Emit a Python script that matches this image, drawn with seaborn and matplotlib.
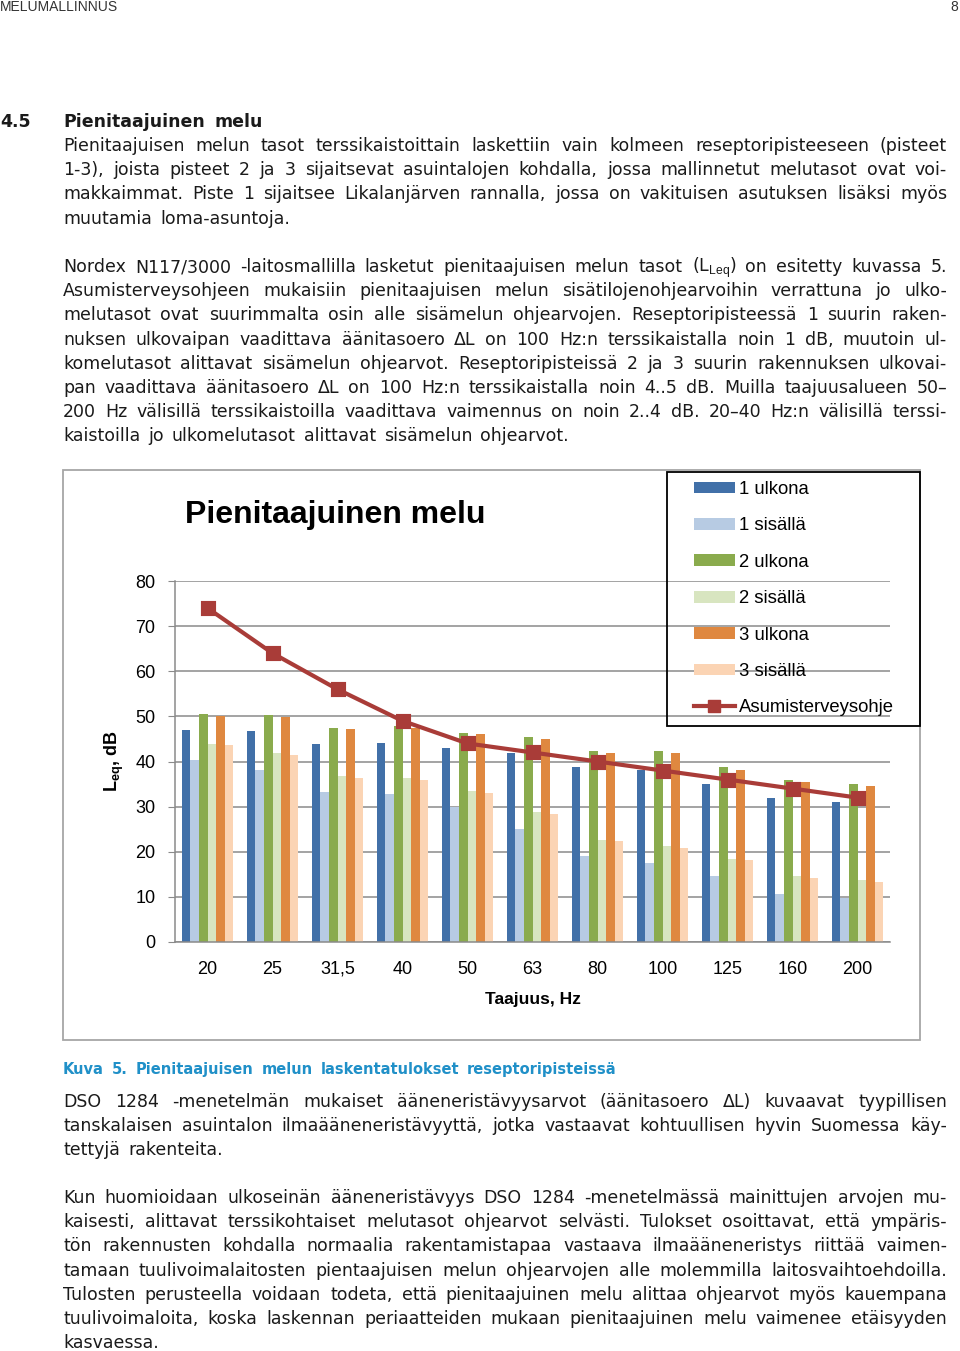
import numpy as np
import pandas as pd
import matplotlib
matplotlib.use("Agg")
import matplotlib.pyplot as plt
import seaborn as sns
from matplotlib.font_manager import FontProperties
from matplotlib.patches import Rectangle, Patch
from matplotlib.lines import Line2D

# data (Leq, dB per third-octave band)
freqs = ['20', '25', '31,5', '40', '50', '63', '80', '100', '125', '160', '200']
ulkona_1 = [47.0, 46.7, 43.9, 44.1, 42.9, 41.8, 38.8, 38.2, 35.0, 31.9, 31.0]
sisalla_1 = [40.4, 38.2, 33.3, 32.7, 29.9, 25.1, 19.1, 17.4, 14.7, 10.7, 9.8]
ulkona_2 = [50.5, 50.2, 47.5, 47.9, 46.4, 45.4, 42.4, 42.4, 38.8, 35.8, 35.0]
sisalla_2 = [43.9, 41.9, 36.8, 36.3, 33.5, 28.8, 22.6, 21.2, 18.5, 14.6, 13.7]
ulkona_3 = [50.1, 49.9, 47.1, 47.4, 46.1, 44.9, 41.9, 41.9, 38.2, 35.4, 34.5]
sisalla_3 = [43.6, 41.4, 36.4, 35.9, 33.0, 28.4, 22.3, 20.8, 18.1, 14.1, 13.3]
ohjearvo = [74, 64, 56, 49, 44, 42, 40, 38, 36, 34, 32]

series_names = ['1 ulkona', '1 sisällä', '2 ulkona', '2 sisällä', '3 ulkona', '3 sisällä']
series_values = [ulkona_1, sisalla_1, ulkona_2, sisalla_2, ulkona_3, sisalla_3]
series_colors = ['#4170a8', '#b7cbe3', '#8aab4d', '#d8e5c0', '#df8840', '#fbd4b4']
line_name = 'Asumisterveysohje'
line_color = '#a93c38'

# page text
header_left = 'MELUMALLINNUS'
header_right = '8'
heading_num = '4.5'
heading = 'Pienitaajuinen melu'
para1 = [
    'Pienitaajuisen melun tasot terssikaistoittain laskettiin vain kolmeen reseptoripisteeseen (pisteet',
    '1-3), joista pisteet 2 ja 3 sijaitsevat asuintalojen kohdalla, jossa mallinnetut melutasot ovat voi-',
    'makkaimmat. Piste 1 sijaitsee Likalanjärven rannalla, jossa on vakituisen asutuksen lisäksi myös',
    'muutamia loma-asuntoja.',
]
para2 = [
    'Nordex N117/3000 -laitosmallilla lasketut pienitaajuisen melun tasot (L$_{\\mathrm{Leq}}$) on esitetty kuvassa 5.',
    'Asumisterveysohjeen mukaisiin pienitaajuisen melun sisätilojenohjearvoihin verrattuna jo ulko-',
    'melutasot ovat suurimmalta osin alle sisämelun ohjearvojen. Reseptoripisteessä 1 suurin raken-',
    'nuksen ulkovaipan vaadittava äänitasoero ΔL on 100 Hz:n terssikaistalla noin 1 dB, muutoin ul-',
    'komelutasot alittavat sisämelun ohjearvot. Reseptoripisteissä 2 ja 3 suurin rakennuksen ulkovai-',
    'pan vaadittava äänitasoero ΔL on 100 Hz:n terssikaistalla noin 4..5 dB. Muilla taajuusalueen 50–',
    '200 Hz välisillä terssikaistoilla vaadittava vaimennus on noin 2..4 dB. 20–40 Hz:n välisillä terssi-',
    'kaistoilla jo ulkomelutasot alittavat sisämelun ohjearvot.',
]
caption = 'Kuva 5. Pienitaajuisen melun laskentatulokset reseptoripisteissä'
para3 = [
    'DSO 1284 -menetelmän mukaiset ääneneristävyysarvot (äänitasoero ΔL) kuvaavat tyypillisen',
    'tanskalaisen asuintalon ilmaääneneristävyyttä, jotka vastaavat kohtuullisen hyvin Suomessa käy-',
    'tettyjä rakenteita.',
]
para4 = [
    'Kun huomioidaan ulkoseinän ääneneristävyys DSO 1284 -menetelmässä mainittujen arvojen mu-',
    'kaisesti, alittavat terssikohtaiset melutasot ohjearvot selvästi. Tulokset osoittavat, että ympäris-',
    'tön rakennusten kohdalla normaalia rakentamistapaa vastaava ilmaääneneristys riittää vaimen-',
    'tamaan tuulivoimalaitosten pientaajuisen melun ohjearvojen alle molemmilla laitosvaihtoehdoilla.',
    'Tulosten perusteella voidaan todeta, että pienitaajuinen melu alittaa ohjearvot myös kauempana',
    'tuulivoimaloita, koska laskennan periaatteiden mukaan pienitaajuinen melu vaimenee etäisyyden',
    'kasvaessa.',
]

W, H = 960, 1351
plt.rcParams['font.family'] = ['Liberation Sans', 'DejaVu Sans']
plt.rcParams['mathtext.fontset'] = 'custom'
plt.rcParams['mathtext.rm'] = 'Liberation Sans'
plt.rcParams['mathtext.bf'] = 'Liberation Sans:bold'

fig = plt.figure(figsize=(W / 100, H / 100), dpi=100, facecolor='white')
renderer = fig.canvas.get_renderer()


def fx(x):
    return x / W


def fy(y):
    return 1 - y / H


def text_width(s, fp):
    return renderer.get_text_width_height_descent(s, fp, ismath=('$' in s))[0]


def put_line(line, y, justify, x0=63, right=947, size=12.5, weight='normal',
             color='#1a1a1a', family='DejaVu Sans', extra=2.5):
    fp = FontProperties(family=family, size=size, weight=weight)
    words = line.split(' ')
    widths = [text_width(w, fp) for w in words]
    space = text_width('a a', fp) - text_width('aa', fp)
    if justify and len(words) > 1:
        gap = (right - x0 - sum(widths)) / (len(words) - 1)
    else:
        gap = space + extra
    x = x0
    for w, wd in zip(words, widths):
        fig.text(fx(x), fy(y), w, fontproperties=fp, color=color,
                 ha='left', va='baseline')
        x += wd + gap


def put_paragraph(lines, y0, step=24.2, **kw):
    for i, line in enumerate(lines):
        put_line(line, y0 + i * step, justify=(i < len(lines) - 1), **kw)


# header
fig.text(fx(0), fy(11), header_left, fontsize=10, color='#333333', ha='left', va='baseline')
fig.text(fx(958), fy(11), header_right, fontsize=10, color='#333333', ha='right', va='baseline')

# section heading and text above the chart
hfp = FontProperties(family='DejaVu Sans', size=12.5, weight='bold')
fig.text(fx(0), fy(127), heading_num, fontproperties=hfp, color='#1a1a1a', va='baseline')
put_line(heading, 127, False, weight='bold', extra=3.5)
put_paragraph(para1, 151)
put_paragraph(para2, 272)

# chart frame and legend box
fig.patches.append(Rectangle((fx(63), fy(1040)), fx(920) - fx(63), fy(470) - fy(1040),
                             transform=fig.transFigure, fill=False, edgecolor='#a6a6a6', lw=1.3))
fig.patches.append(Rectangle((fx(667), fy(726)), fx(920) - fx(667), fy(472) - fy(726),
                             transform=fig.transFigure, fill=False, edgecolor='black', lw=1.3,
                             zorder=5))

ax = fig.add_axes([fx(175), fy(942), fx(890) - fx(175), fy(581) - fy(942)])

df = pd.DataFrame({
    'Taajuus': freqs * len(series_names),
    'sarja': np.repeat(series_names, len(freqs)),
    'Leq': np.concatenate(series_values),
})
sns.barplot(data=df, x='Taajuus', y='Leq', hue='sarja', order=freqs,
            hue_order=series_names, palette=dict(zip(series_names, series_colors)),
            width=0.785, gap=0, errorbar=None, linewidth=0, legend=False,
            saturation=1, ax=ax)
sns.pointplot(x=freqs, y=ohjearvo, order=freqs, color=line_color, markers='s',
              markersize=8, linewidth=3, errorbar=None, ax=ax)

ax.set_xlim(-0.5, len(freqs) - 0.5)
ax.set_ylim(0, 80)
ax.set_yticks(range(0, 81, 10))
ax.set_axisbelow(True)
ax.yaxis.grid(True, color='#8a8a8a', lw=1.1)
ax.xaxis.grid(False)
for s in ['top', 'right']:
    ax.spines[s].set_visible(False)
for s in ['left', 'bottom']:
    ax.spines[s].set_color('#8a8a8a')
    ax.spines[s].set_linewidth(1.1)
ax.tick_params(axis='y', length=5, color='#8a8a8a', pad=9, labelsize=13)
ax.tick_params(axis='x', length=0, pad=13.5, labelsize=13)
ax.set_facecolor('none')

ax.set_xlabel('Taajuus, Hz', fontsize=12.5, fontweight='bold')
ax.xaxis.set_label_coords(0.5, -0.139)
ax.set_ylabel(r'$\mathbf{L_{eq}}$, dB', fontsize=13, fontweight='bold')
ax.yaxis.set_label_coords(-0.068, 0.5)

fig.text(fx(185), fy(523), 'Pienitaajuinen melu', fontsize=23, fontweight='bold',
         ha='left', va='baseline')

handles = [Patch(facecolor=c, edgecolor='none') for c in series_colors]
handles.append(Line2D([], [], color=line_color, lw=3, marker='s', markersize=8))
fig.legend(handles, series_names + [line_name], loc='upper left',
           bbox_to_anchor=(fx(694), fy(481)), frameon=False, fontsize=13.3,
           handlelength=2.2, handleheight=0.6, handletextpad=0.25,
           labelspacing=1.05, borderpad=0, borderaxespad=0)

# caption and text below the chart
put_line(caption, 1074, False, size=10.5, weight='bold', color='#2090c8', extra=2.8)
put_paragraph(para3, 1107)
put_paragraph(para4, 1203)

fig.savefig('out.png', dpi=100, facecolor='white')
